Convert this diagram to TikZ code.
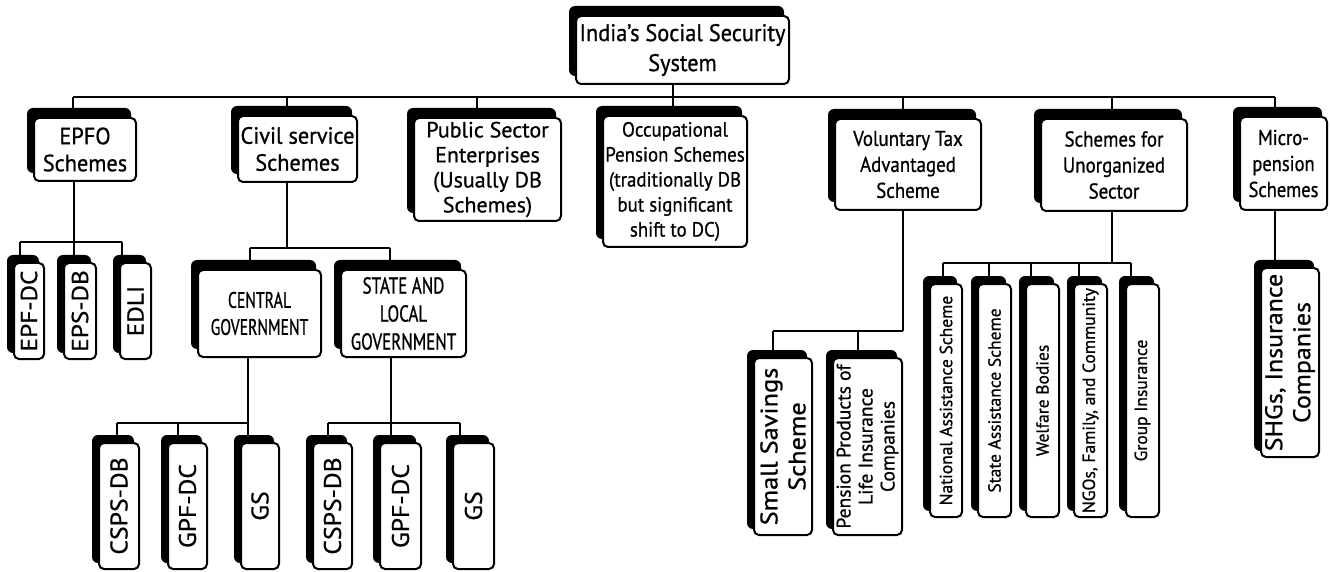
\documentclass[tikz,border=0pt]{standalone}
\usepackage{fontspec}
\setmainfont{PT Sans}
\newcommand\ff[3]{\fontsize{#1}{#2}\selectfont\addfontfeature{FakeStretch=#3,FakeBold=0.8}}
\tikzset{
  conn/.style={line width=2pt},
  sbox/.style={fill=black, rounded corners=6pt, inner sep=0pt, outer sep=0pt},
  wbox/.style={draw, fill=white, line width=2pt, rounded corners=5pt, inner sep=1pt, outer sep=0pt, align=center},
}
\def\dx{6}\def\dy{9}
\newcommand\boxH[7]{%
  \node[sbox, minimum width={(#4-#2)*1pt}, minimum height={(#5-#3)*1pt}] (#1-s) at ({(#2+#4)/2-\dx},{(#3+#5)/2-\dy}) {};
  \node[wbox, minimum width={(#4-#2-2)*1pt}, minimum height={(#5-#3-2)*1pt}, font={#6}] (#1) at ({(#2+#4)/2},{(#3+#5)/2}) {#7};
}
\newcommand\boxV[7]{%
  \node[sbox, minimum width={(#4-#2)*1pt}, minimum height={(#5-#3)*1pt}] (#1-s) at ({(#2+#4)/2-\dx},{(#3+#5)/2-\dy}) {};
  \node[wbox, rotate=90, minimum width={(#5-#3-2)*1pt}, minimum height={(#4-#2-2)*1pt}, font={#6}] (#1) at ({(#2+#4)/2},{(#3+#5)/2}) {#7};
}
\begin{document}
\begin{tikzpicture}[x=1pt,y=-1pt]
\useasboundingbox (0,0) rectangle (1331,572);
% ---- level 0 and 1
\boxH{root}{575}{15}{790}{85}{\ff{24}{30}{0.93}}{India’s Social Security\\System}
\boxH{epfo}{33}{117}{137}{182}{\ff{23.5}{27}{0.95}}{EPFO\\Schemes}
\boxH{civil}{237}{115}{358}{183}{\ff{23.5}{27}{0.95}}{Civil service\\Schemes}
\boxH{pse}{413}{117}{562}{222}{\ff{22}{25}{1.0}}{Public Sector\\Enterprises\\(Usually DB\\Schemes)}
\boxH{occ}{602}{115}{748}{248}{\ff{20.5}{25}{0.92}}{Occupational\\Pension Schemes\\(traditionally DB\\but significant\\shift to DC)}
\boxH{vol}{834}{118}{982}{211}{\ff{21.5}{26}{0.88}}{Voluntary Tax\\Advantaged\\Scheme}
\boxH{unorg}{1040}{118}{1188}{212}{\ff{21.5}{26}{0.88}}{Schemes for\\Unorganized\\Sector}
\boxH{micro}{1239}{116}{1328}{211}{\ff{21.5}{26}{0.86}}{Micro-\\pension\\Schemes}
% ---- level 2
\boxH{cg}{197}{269}{322}{358}{\ff{22.5}{27}{0.7}}{CENTRAL\\GOVERNMENT}
\boxH{slg}{340}{269}{467}{358}{\ff{23}{28}{0.74}}{STATE AND\\LOCAL\\GOVERNMENT}
\def\dy{7}
\boxV{epfdc}{13}{262}{45}{360}{\ff{23}{26}{1.1}}{EPF-DC}
\boxV{epsdb}{63}{262}{97}{360}{\ff{23}{26}{1.1}}{EPS-DB}
\boxV{edli}{119}{262}{152}{360}{\ff{23}{26}{1.1}}{EDLI}
\boxV{ss}{753}{357}{813}{536}{\ff{24}{28}{1.1}}{Small Savings\\Scheme}
\boxV{ppl}{832}{357}{903}{536}{\ff{19.5}{22}{1.0}}{Pension Products of\\Life Insurance\\Companies}
\boxV{nas}{929}{283}{963}{518}{\ff{17.5}{22}{1.0}}{National Assistance Scheme}
\boxV{sas}{977}{283}{1012}{518}{\ff{17.5}{22}{1.0}}{State Assistance Scheme}
\boxV{wb}{1025}{283}{1060}{518}{\ff{17.5}{22}{1.0}}{Welfare Bodies}
\boxV{ngo}{1073}{283}{1108}{518}{\ff{17.5}{22}{1.0}}{NGOs, Family, and Community}
\boxV{gi}{1125}{283}{1160}{518}{\ff{17.5}{22}{1.0}}{Group Insurance}
\boxV{shg}{1260}{267}{1320}{458}{\ff{24}{28}{1.08}}{SHGs, Insurance\\Companies}
% ---- level 3
\boxV{csA}{98}{442}{140}{570}{\ff{24}{28}{1.07}}{CSPS-DB}
\boxV{gpA}{167}{442}{208}{570}{\ff{24}{28}{1.07}}{GPF-DC}
\boxV{gsA}{240}{442}{280}{570}{\ff{24}{28}{1.07}}{GS}
\boxV{csB}{312}{442}{353}{570}{\ff{24}{28}{1.07}}{CSPS-DB}
\boxV{gpB}{379}{442}{422}{570}{\ff{24}{28}{1.07}}{GPF-DC}
\boxV{gsB}{452}{442}{495}{570}{\ff{24}{28}{1.07}}{GS}
% ---- connectors
\coordinate (bus0) at (673,97);
\draw[conn] (bus0) -- (673,0 |- root.south);
\draw[conn] (73,97) -- (1275,97);
\foreach \x/\n in {73/epfo,287/civil,477/pse,673/occ,903/vol,1112/unorg,1275/micro}
  \draw[conn] (\x,97) -- (\x,0 |- \n-s.north);
% EPFO
\draw[conn] (74,0 |- epfo.south) -- (74,242);
\draw[conn] (20,242) -- (122,242);
\foreach \x/\n in {20/epfdc,74/epsdb,122/edli}
  \draw[conn] (\x,242) -- (\x,0 |- \n-s.north);
% Civil
\draw[conn] (287,0 |- civil.south) -- (287,248);
\draw[conn] (250,248) -- (390,248);
\foreach \x/\n in {250/cg,390/slg}
  \draw[conn] (\x,248) -- (\x,0 |- \n-s.north);
% Central / State
\draw[conn] (248,0 |- cg.south) -- (248,423);
\draw[conn] (117,423) -- (248,423);
\foreach \x/\n in {117/csA,178/gpA,248/gsA}
  \draw[conn] (\x,423) -- (\x,0 |- \n-s.north);
\draw[conn] (391,0 |- slg.south) -- (391,423);
\draw[conn] (328,423) -- (460,423);
\foreach \x/\n in {328/csB,391/gpB,460/gsB}
  \draw[conn] (\x,423) -- (\x,0 |- \n-s.north);
% Voluntary
\draw[conn] (903,0 |- vol.south) -- (903,331);
\draw[conn] (773,331) -- (903,331);
\foreach \x/\n in {773/ss,858/ppl}
  \draw[conn] (\x,331) -- (\x,0 |- \n-s.north);
% Unorganized
\draw[conn] (1112,0 |- unorg.south) -- (1112,263);
\draw[conn] (943,263) -- (1131,263);
\foreach \x/\n in {943/nas,989/sas,1031/wb,1079/ngo,1131/gi}
  \draw[conn] (\x,263) -- (\x,0 |- \n-s.north);
% Micro
\draw[conn] (1275,0 |- micro.south) -- (1275,0 |- shg-s.north);
\end{tikzpicture}
\end{document}
